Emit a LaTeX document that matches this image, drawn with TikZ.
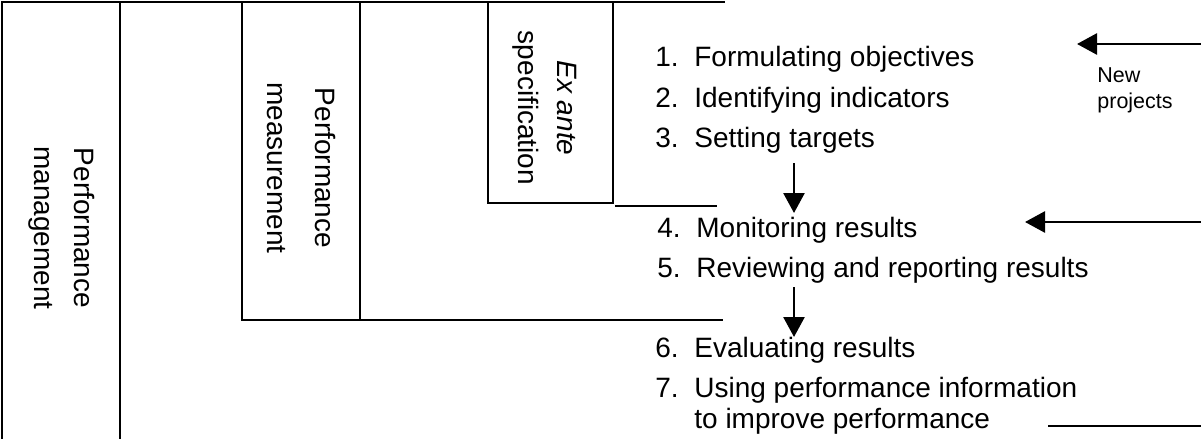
\documentclass[tikz,border=0pt]{standalone}
\usepackage{fontspec}
\setmainfont{Liberation Sans}
\usetikzlibrary{positioning, arrows.meta}

\newcommand{\stepnum}[1]{\makebox[19.5pt][l]{#1}}

\begin{document}
\begin{tikzpicture}[
    x=0.5pt, y=-0.5pt,
    >={Triangle[length=10pt, width=10.5pt]},
    frame/.style={line width=1.3pt},
    arrow/.style={->, line width=1.3pt},
    heading/.style={rotate=-90, align=center, inner sep=0pt, font=\fontsize{14}{20}\selectfont},
    item/.style={anchor=base west, inner sep=0pt, align=left, font=\fontsize{14}{15.5}\selectfont},
    note/.style={anchor=north west, inner sep=0pt, align=left, font=\fontsize{10.75}{13}\selectfont}
]
\useasboundingbox (0,0) rectangle (1201,439);

% Frame of nested stages
\draw[frame] (2,439) -- (2,2) -- (725,2);
\draw[frame] (120,2) -- (120,439);
\draw[frame] (242,2) -- (242,320) -- (723,320);
\draw[frame] (360,2) -- (360,320);
\draw[frame] (488,2) -- (488,203) -- (613,203) -- (613,2);
\draw[frame] (615,206) -- (717,206);
\draw[frame] (1048,426) -- (1201,426);

% Stage headings
\node[heading] (mgmt) at (62,228) {Performance\\management};
\node[heading] (meas) at (301,168) {Performance\\[4pt]measurement};
\node[heading] (spec) at (545,108) {\textit{Ex ante}\\[-0.5pt]specification};

% Steps
\node[item] (objectives) at (655,67) {\stepnum{1.}Formulating objectives};
\node[item] (indicators) at (655,107) {\stepnum{2.}Identifying indicators};
\node[item] (targets) at (655,147) {\stepnum{3.}Setting targets};
\node[item] (monitor) at (657,237) {\stepnum{4.}Monitoring results};
\node[item] (review) at (657,277) {\stepnum{5.}Reviewing and reporting results};
\node[item] (evaluate) at (655,357) {\stepnum{6.}Evaluating results};
\node[item, anchor=north west] (use) at (655,376.5) {\stepnum{7.}Using performance information\\\stepnum{}to improve performance};

\node[note] (newproj) at (1097,67) {New\\projects};

% Connections
\coordinate (newin) at (1201,44);
\coordinate (newtip) at (1077,44);
\coordinate (monin) at (1201,222);
\coordinate (montip) at (1025,222);
\coordinate (specout) at (794,163);
\coordinate (measin) at (794,213);
\coordinate (measout) at (794,287);
\coordinate (evalin) at (794,337);

\draw[arrow] (newin) -- (newtip);
\draw[arrow] (monin) -- (montip);
\draw[arrow] (specout) -- (measin);
\draw[arrow] (measout) -- (evalin);

\end{tikzpicture}
\end{document}
